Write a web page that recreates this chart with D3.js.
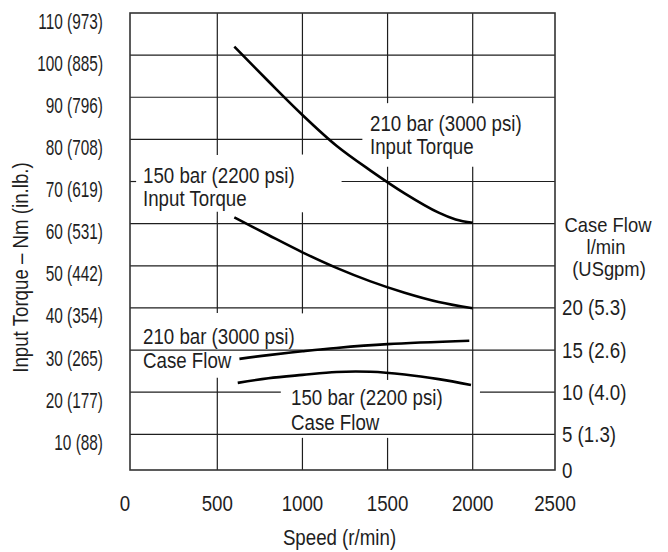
<!DOCTYPE html>
<html><head><meta charset="utf-8">
<script src="https://cdn.jsdelivr.net/npm/d3@7"></script>
<style>body{margin:0;background:#fff}</style>
</head><body><svg id="c" width="668" height="552"></svg>
<script>
// ---------- data ----------
const speedTicks = [0, 500, 1000, 1500, 2000, 2500];
const torqueTicks = [10, 20, 30, 40, 50, 60, 70, 80, 90, 100, 110];
const torqueLabels = ["10 (88)", "20 (177)", "30 (265)", "40 (354)", "50 (442)", "60 (531)", "70 (619)", "80 (708)", "90 (796)", "100 (885)", "110 (973)"];
const flowTicks = [0, 5, 10, 15, 20];
const flowLabels = ["0", "5 (1.3)", "10 (4.0)", "15 (2.6)", "20 (5.3)"];

const torque210Speed = [600, 800, 1000, 1200, 1400, 1600, 1800, 1900, 2000];
const torque210 = [102, 93.8, 85.8, 78.5, 72.6, 67.2, 62.6, 61.0, 60.2];
const torque150Speed = [600, 800, 1000, 1200, 1400, 1600, 1800, 2000];
const torque150 = [61.5, 57.3, 53.2, 49.5, 46.3, 43.6, 41.4, 39.9];
const flow210Speed = [630, 800, 1000, 1200, 1500, 1980];
const flow210 = [13.95, 14.4, 14.85, 15.25, 15.7, 16.1];
const flow150Speed = [620, 800, 1000, 1200, 1400, 1600, 1800, 1990];
const flow150 = [11.1, 11.65, 12.05, 12.4, 12.42, 12.1, 11.55, 10.85];

// grid-line breaks (left-axis torque value -> speed ranges; speed -> torque ranges)
const hGaps = {70: [[35, 1230]], 80: [[1352, 2500]], 20: [[873, 2044]]};
const vGaps = {500: [[23.4, 38.8], [62.8, 76.3]], 1000: [[9.0, 38.7], [62.7, 76.4]], 1500: [[9.0, 22.9], [73.5, 88.6]], 2000: [[73.5, 88.6]]};

// ---------- scales ----------
const x = d3.scaleLinear().domain([0, 500, 2000, 2500]).range([130, 217.3, 472.7, 555]);
const y = d3.scaleLinear().domain([0, 10, 110]).range([470, 434.3, 13]);
const yR = d3.scaleLinear().domain([0, 5, 55]).range([470, 434.3, 13]);

const svg = d3.select("#c");
const FONT = "'Liberation Sans', Arial, sans-serif";
const INK = "#1e1e1e";

function segments(lo, hi, gaps) {
  const segs = []; let s = lo;
  (gaps || []).slice().sort((a, b) => a[0] - b[0]).forEach(g => { if (g[0] > s) segs.push([s, g[0]]); s = Math.max(s, g[1]); });
  if (s < hi) segs.push([s, hi]);
  return segs;
}

// grid
const grid = svg.append("g").attr("stroke", INK).attr("stroke-width", 1.2).attr("fill", "none");
torqueTicks.filter(v => v < 110).forEach(v => {
  segments(0, 2500, hGaps[v]).forEach(([a, b]) => grid.append("line").attr("x1", x(a)).attr("x2", x(b)).attr("y1", y(v)).attr("y2", y(v)));
});
speedTicks.filter(v => v > 0 && v < 2500).forEach(v => {
  segments(0, 110, vGaps[v]).forEach(([a, b]) => grid.append("line").attr("x1", x(v)).attr("x2", x(v)).attr("y1", y(a)).attr("y2", y(b)));
});
// frame
svg.append("rect").attr("x", x(0)).attr("y", y(110)).attr("width", x(2500) - x(0)).attr("height", y(0) - y(110))
  .attr("fill", "none").attr("stroke", "#333").attr("stroke-width", 1.6);

// curves
const curve = d3.curveCatmullRom.alpha(0.5);
const lineT = d3.line().x(d => x(d[0])).y(d => y(d[1])).curve(curve);
const lineF = d3.line().x(d => x(d[0])).y(d => yR(d[1])).curve(curve);
const curves = svg.append("g").attr("fill", "none").attr("stroke", "#000").attr("stroke-width", 2.6).attr("stroke-linecap", "butt");
curves.append("path").attr("d", lineT(d3.zip(torque210Speed, torque210)));
curves.append("path").attr("d", lineT(d3.zip(torque150Speed, torque150)));
curves.append("path").attr("d", lineF(d3.zip(flow210Speed, flow210)));
curves.append("path").attr("d", lineF(d3.zip(flow150Speed, flow150)));

// text helper (condensed look via horizontal scaling)
function txt(px, py, str, anchor = "start", sx = 0.85, rot = 0, size = 22) {
  svg.append("g").attr("transform", `translate(${px},${py}) rotate(${rot}) scale(${sx},1)`)
    .append("text").attr("text-anchor", anchor).attr("font-family", FONT).attr("font-size", size)
    .attr("fill", INK).text(str);
}

// x tick labels
speedTicks.forEach(v => txt(x(v) - (v === 0 ? 5 : 0), 511, String(v), "middle"));
txt(339.5, 545, "Speed (r/min)", "middle");
// left tick labels
torqueTicks.forEach((v, i) => txt(103, y(v) + 15.5, torqueLabels[i], "end", 0.7));
txt(28, 267.5, "Input Torque – Nm (in.lb.)", "middle", 0.85, -90);
// right tick labels
flowTicks.forEach((v, i) => txt(562, yR(v) + 7.5, flowLabels[i], "start"));
txt(608, 231.5, "Case Flow", "middle", 0.92, 0, 20);
txt(606, 253.5, "l/min", "middle", 0.92, 0, 20);
txt(609, 275.5, "(USgpm)", "middle", 0.92, 0, 20);

// curve labels
txt(370, 131, "210 bar (3000 psi)");
txt(370, 153.5, "Input Torque");
txt(143, 182.5, "150 bar (2200 psi)");
txt(143, 205.5, "Input Torque");
txt(143, 343.5, "210 bar (3000 psi)");
txt(143, 368, "Case Flow");
txt(291, 404.5, "150 bar (2200 psi)");
txt(291, 430, "Case Flow");
</script></body></html>
